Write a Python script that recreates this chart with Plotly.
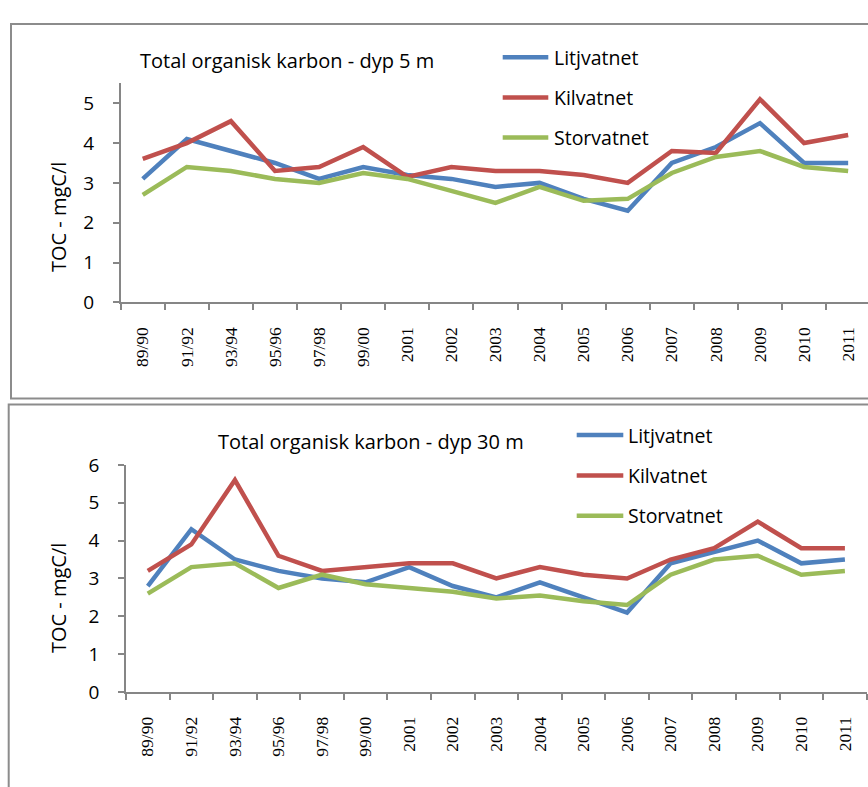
import plotly.graph_objects as go

# Sampling periods (categories on the x axis)
periods = ["89/90", "91/92", "93/94", "95/96", "97/98", "99/00", "2001", "2002",
           "2003", "2004", "2005", "2006", "2007", "2008", "2009", "2010", "2011"]

lakes = ["Litjvatnet", "Kilvatnet", "Storvatnet"]

# TOC (mgC/l) at 5 m depth
litj_5 = [3.1, 4.1, 3.8, 3.5, 3.1, 3.4, 3.2, 3.1, 2.9, 3.0, 2.6, 2.3, 3.5, 3.9, 4.5, 3.5, 3.5]
kilv_5 = [3.6, 4.0, 4.55, 3.3, 3.4, 3.9, 3.15, 3.4, 3.3, 3.3, 3.2, 3.0, 3.8, 3.75, 5.1, 4.0, 4.2]
storv_5 = [2.7, 3.4, 3.3, 3.1, 3.0, 3.25, 3.1, 2.8, 2.5, 2.9, 2.55, 2.6, 3.25, 3.65, 3.8, 3.4, 3.3]

# TOC (mgC/l) at 30 m depth
litj_30 = [2.8, 4.3, 3.5, 3.2, 3.0, 2.9, 3.3, 2.8, 2.5, 2.9, 2.5, 2.1, 3.4, 3.7, 4.0, 3.4, 3.5]
kilv_30 = [3.2, 3.9, 5.6, 3.6, 3.2, 3.3, 3.4, 3.4, 3.0, 3.3, 3.1, 3.0, 3.5, 3.8, 4.5, 3.8, 3.8]
storv_30 = [2.6, 3.3, 3.4, 2.75, 3.1, 2.85, 2.75, 2.65, 2.47, 2.55, 2.4, 2.3, 3.1, 3.5, 3.6, 3.1, 3.2]

colors = ["#4F81BD", "#C0504D", "#9BBB59"]

W, H = 868, 787
GREY = "#868686"
SANS = "Open Sans"
SERIF = "Liberation Serif"
LINE_W = 4.5


def px(x):
    return x / W


def py(y):
    return 1 - y / H


fig = go.Figure()

for name, vals, col in zip(lakes, [litj_5, kilv_5, storv_5], colors):
    fig.add_trace(go.Scatter(x=periods, y=vals, name=name, mode="lines",
                             line=dict(color=col, width=LINE_W),
                             xaxis="x", yaxis="y", showlegend=False))

for name, vals, col in zip(lakes, [litj_30, kilv_30, storv_30], colors):
    fig.add_trace(go.Scatter(x=periods, y=vals, name=name, mode="lines",
                             line=dict(color=col, width=LINE_W),
                             xaxis="x2", yaxis="y2", showlegend=False))

xcommon = dict(type="category", tickson="boundaries", ticks="outside", ticklen=6,
               tickcolor=GREY, tickwidth=1.5, showline=True, linecolor=GREY,
               linewidth=1.5, showgrid=False, zeroline=False, tickangle=-90,
               tickfont=dict(family=SERIF, size=17.5, color="#000000"),
               ticklabelstandoff=16)
ycommon = dict(ticks="outside", ticklen=6, tickcolor=GREY, tickwidth=1.5,
               showline=True, linecolor=GREY, linewidth=1.5, showgrid=False,
               zeroline=False, dtick=1,
               tickfont=dict(family=SANS, size=19, color="#000000"),
               ticklabelstandoff=15)

fig.update_layout(
    width=W, height=H,
    margin=dict(l=0, r=0, t=0, b=0),
    paper_bgcolor="white", plot_bgcolor="white",
    xaxis=dict(xcommon, domain=[px(120.7), 1], range=[-0.5, 16.45], anchor="y"),
    yaxis=dict(ycommon, domain=[py(299.3), py(72.7)], range=[0, 5.5], anchor="x"),
    xaxis2=dict(xcommon, domain=[px(126), px(866.7)], range=[-0.5, 16.5], anchor="y2"),
    yaxis2=dict(ycommon, domain=[py(702.3), py(467.3)], range=[0, 6], anchor="x2"),
    showlegend=False,
)

# Chart frames
fig.add_shape(type="rect", xref="paper", yref="paper",
              x0=px(11), x1=1.05, y0=py(398.7), y1=py(11.3),
              line=dict(color="#8C8C8C", width=2), layer="below")
fig.add_shape(type="rect", xref="paper", yref="paper",
              x0=px(8.7), x1=1.05, y0=-0.05, y1=py(405),
              line=dict(color="#8C8C8C", width=2), layer="below")

# Legends: line swatch followed by the lake name, one block per chart
legend_blocks = [
    dict(x0=502.7, x1=548.3, text_x=552, rows=[45.8, 87.3, 128.8]),
    dict(x0=576.7, x1=623.3, text_x=626, rows=[436.5, 478.3, 520.0]),
]
for block in legend_blocks:
    for name, col, yrow in zip(lakes, colors, block["rows"]):
        fig.add_shape(type="line", xref="paper", yref="paper",
                      x0=px(block["x0"]), x1=px(block["x1"]),
                      y0=py(yrow), y1=py(yrow),
                      line=dict(color=col, width=LINE_W))
        fig.add_annotation(text=name, xref="paper", yref="paper",
                           x=px(block["text_x"]), y=py(yrow),
                           xanchor="left", yanchor="middle", showarrow=False,
                           font=dict(family=SANS, size=19.5, color="#000000"))

# Chart titles
fig.add_annotation(text="Total organisk karbon - dyp 5 m", xref="paper", yref="paper",
                   x=px(138), y=py(49), xanchor="left", yanchor="middle",
                   showarrow=False, font=dict(family=SANS, size=20, color="#000000"))
fig.add_annotation(text="Total organisk karbon - dyp 30 m", xref="paper", yref="paper",
                   x=px(216), y=py(443), xanchor="left", yanchor="middle",
                   showarrow=False, font=dict(family=SANS, size=20, color="#000000"))

# Y-axis titles
for yc in (211, 605):
    fig.add_annotation(text="TOC - mgC/l", xref="paper", yref="paper",
                       x=px(58), y=py(yc), xanchor="center", yanchor="middle",
                       textangle=-90, showarrow=False,
                       font=dict(family=SANS, size=20, color="#000000"))

fig.write_html("out.html")
